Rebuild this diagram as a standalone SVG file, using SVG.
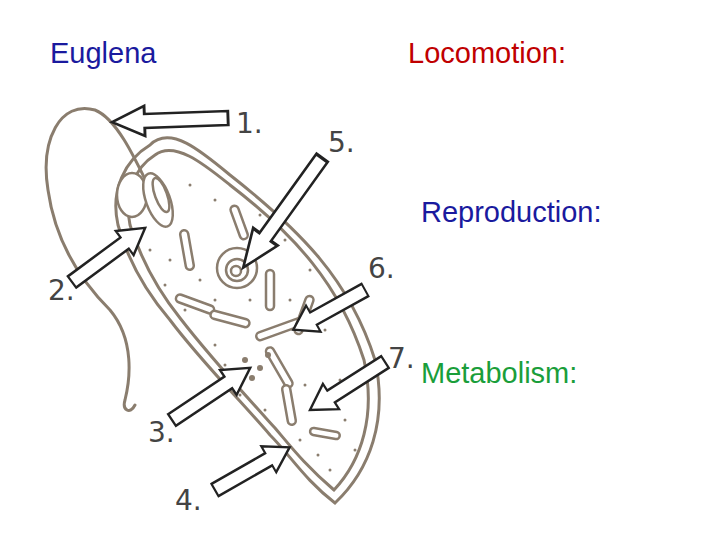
<svg xmlns="http://www.w3.org/2000/svg" width="720" height="540" viewBox="0 0 720 540">
<style>
.t{font-family:"Liberation Sans",Arial,sans-serif;font-size:29px}
.n{font-family:"DejaVu Sans",sans-serif;font-size:28px;fill:#444}
.o{fill:none;stroke:#8a7d6e;stroke-width:3;stroke-linecap:round}
.r{fill:#fff;stroke:#8a7d6e;stroke-width:2.5}
.a{fill:#fff;stroke:#222;stroke-width:2.5;stroke-linejoin:miter}
</style>
<defs>
<polygon id="arr" points="0,-7 72,-7 72,-15 100,0 72,15 72,7 0,7"/>
</defs>
<rect width="720" height="540" fill="#fff"/>
<text class="t" x="50" y="63" fill="#1a1a9e">Euglena</text>
<text class="t" x="408" y="63" fill="#c00000">Locomotion:</text>
<text class="t" x="421" y="222" fill="#1a1a9e">Reproduction:</text>
<text class="t" x="421" y="383" fill="#1a9e3a">Metabolism:</text>
<g id="cell">
<path class="o" d="M150,145 C170,125 200,150 230,175 C300,230 350,280 375,360 C388,420 370,470 335,503 C305,480 290,455 270,435 C240,400 200,360 170,320 C140,285 125,250 118,225 C110,190 125,160 150,145 Z"/>
<path class="o" stroke-width="2" d="M155,155 C175,140 205,165 230,185 C295,235 340,285 364,360 C376,415 362,460 334,490 C305,465 292,448 275,428 C245,395 210,357 180,318 C152,283 138,250 130,225 C124,195 134,168 155,155 Z"/>
<path class="o" d="M160,210 C140,170 120,120 95,110 C60,100 40,140 48,190 C55,240 80,280 110,310 C135,340 130,380 125,400 C122,410 130,415 135,405"/>
<ellipse class="r" cx="132" cy="195" rx="15" ry="22"/>
<ellipse class="r" cx="158" cy="200" rx="12" ry="28" transform="rotate(-20 158 200)"/>
<ellipse class="r" cx="161" cy="195" rx="6" ry="18" transform="rotate(-20 161 195)"/>
<circle class="r" cx="237" cy="268" r="20"/>
<circle class="r" cx="237" cy="270" r="11"/>
<circle class="r" cx="236" cy="271" r="5"/>
<rect class="r" x="183" y="230" width="8" height="40" rx="4" transform="rotate(-10 187 250)"/>
<rect class="r" x="266" y="270" width="8" height="40" rx="4"/>
<rect class="r" x="175" y="300" width="40" height="8" rx="4" transform="rotate(20 195 304)"/>
<rect class="r" x="210" y="315" width="40" height="8" rx="4" transform="rotate(15 230 319)"/>
<rect class="r" x="255" y="325" width="50" height="8" rx="4" transform="rotate(-20 280 329)"/>
<rect class="r" x="275" y="345" width="8" height="45" rx="4" transform="rotate(-30 279 367)"/>
<rect class="r" x="300" y="295" width="8" height="40" rx="4" transform="rotate(20 304 315)"/>
<rect class="r" x="285" y="385" width="8" height="40" rx="4" transform="rotate(-10 289 405)"/>
<rect class="r" x="310" y="430" width="30" height="7" rx="3.5" transform="rotate(10 325 433)"/>
<rect class="r" x="235" y="205" width="8" height="35" rx="4" transform="rotate(-20 239 222)"/>
<g fill="#8a7d6e">
<circle cx="245" cy="360" r="3"/><circle cx="260" cy="368" r="3"/><circle cx="252" cy="378" r="3"/><circle cx="268" cy="355" r="3"/><circle cx="238" cy="375" r="2.5"/>
<circle cx="170" cy="260" r="1.5"/><circle cx="200" cy="280" r="1.5"/><circle cx="215" cy="300" r="1.5"/><circle cx="185" cy="310" r="1.5"/><circle cx="215" cy="345" r="1.5"/><circle cx="240" cy="395" r="1.5"/><circle cx="265" cy="410" r="1.5"/><circle cx="300" cy="440" r="1.5"/><circle cx="330" cy="470" r="1.5"/><circle cx="345" cy="420" r="1.5"/><circle cx="340" cy="380" r="1.5"/><circle cx="325" cy="330" r="1.5"/><circle cx="310" cy="270" r="1.5"/><circle cx="285" cy="240" r="1.5"/><circle cx="260" cy="215" r="1.5"/><circle cx="215" cy="200" r="1.5"/><circle cx="190" cy="185" r="1.5"/><circle cx="165" cy="285" r="1.5"/><circle cx="150" cy="250" r="1.5"/><circle cx="290" cy="300" r="1.5"/><circle cx="250" cy="300" r="1.5"/><circle cx="305" cy="385" r="1.5"/><circle cx="318" cy="455" r="1.5"/><circle cx="355" cy="450" r="1.5"/><circle cx="225" cy="365" r="1.5"/>
</g>
</g>
<g id="arrows">
<use href="#arr" class="a" transform="translate(228,118) rotate(178) scale(1.16,1)"/>
<use href="#arr" class="a" transform="translate(322,158) rotate(125.7) scale(1.35,1)"/>
<use href="#arr" class="a" transform="translate(72,282) rotate(-36.5) scale(0.91,1)"/>
<use href="#arr" class="a" transform="translate(365,290) rotate(151) scale(0.82,1)"/>
<use href="#arr" class="a" transform="translate(172,420) rotate(-33.7) scale(0.94,1)"/>
<use href="#arr" class="a" transform="translate(385,362) rotate(147.4) scale(0.89,1)"/>
<use href="#arr" class="a" transform="translate(215,490) rotate(-29.8) scale(0.86,1)"/>
</g>
<g id="labels">
<text class="n" x="236" y="133">1.</text>
<text class="n" x="328" y="152">5.</text>
<text class="n" x="48" y="300">2.</text>
<text class="n" x="368" y="278">6.</text>
<text class="n" x="388" y="368">7.</text>
<text class="n" x="148" y="442">3.</text>
<text class="n" x="175" y="510">4.</text>
</g>
</svg>
